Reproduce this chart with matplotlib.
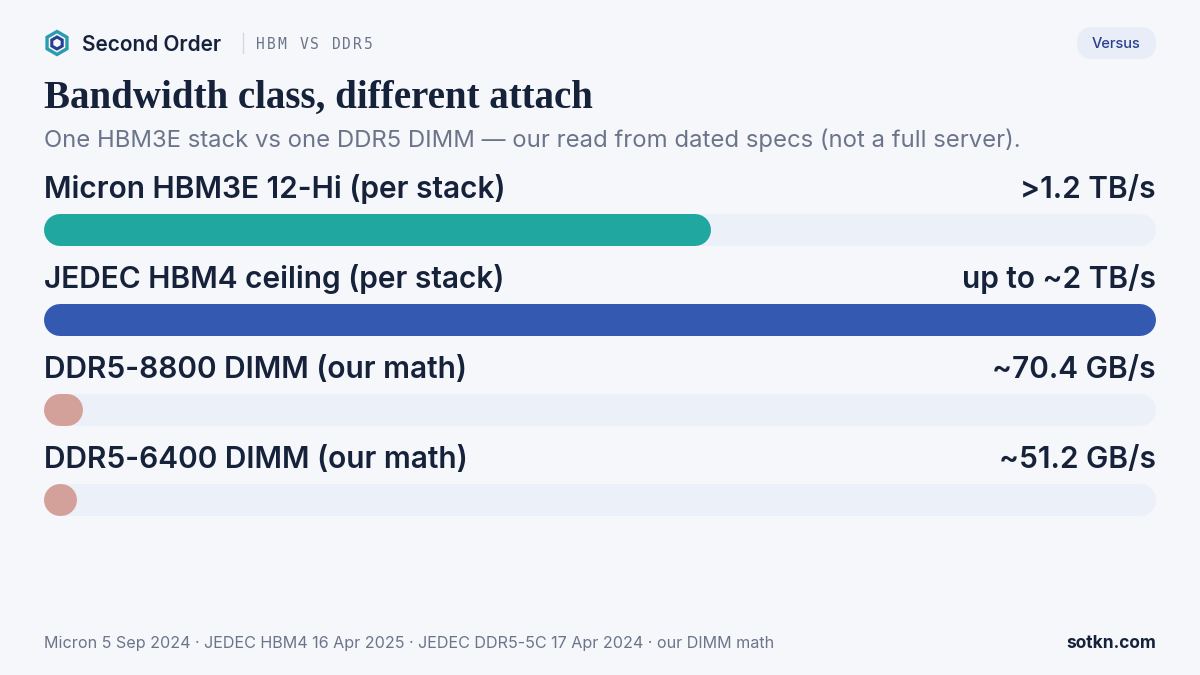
import matplotlib
matplotlib.use("Agg")
import matplotlib.pyplot as plt
from matplotlib.patches import FancyBboxPatch, RegularPolygon

# Chart data
labels = ["Micron HBM3E 12-Hi (per stack)", "JEDEC HBM4 ceiling (per stack)",
          "DDR5-8800 DIMM (our math)", "DDR5-6400 DIMM (our math)"]
values_gbs = [1200, 2000, 70.4, 51.2]
value_text = [">1.2 TB/s", "up to ~2 TB/s", "~70.4 GB/s", "~51.2 GB/s"]
bar_colors = ["#20A8A0", "#3459B1", "#D4A19A", "#D4A19A"]
scale_max = 2000

title = "Bandwidth class, different attach"
subtitle = "One HBM3E stack vs one DDR5 DIMM \u2014 our read from dated specs (not a full server)."
footer = "Micron 5 Sep 2024 \u00b7 JEDEC HBM4 16 Apr 2025 \u00b7 JEDEC DDR5-5C 17 Apr 2024 \u00b7 our DIMM math"

BG = "#F5F7FB"
TRACK = "#ECF0F8"
DARK = "#16213A"
GRAY = "#6B7489"

W, H = 1200, 675
fig = plt.figure(figsize=(12, 6.75), dpi=100, facecolor=BG)

# full-figure axes in pixel units for text
ax = fig.add_axes([0, 0, 1, 1])
ax.set_xlim(0, W)
ax.set_ylim(H, 0)
ax.axis("off")

# logo
ax.add_patch(RegularPolygon((57, 43), 6, radius=11.5, orientation=0, fill=False,
                            edgecolor="#2A9BB0", linewidth=2.4))
ax.add_patch(RegularPolygon((57, 43), 6, radius=6, orientation=0, fill=False,
                            edgecolor="#24408F", linewidth=2.2))

ax.text(82, 51, "Second Order", fontsize=15, fontweight="semibold",
        family="Inter", color=DARK)
ax.plot([243, 243], [33, 53], color="#D3D8E2", linewidth=1)
for i, ch in enumerate("HBM VS DDR5"):
    ax.text(256 + i * 10.8, 49, ch, fontsize=10.5, family="DejaVu Sans Mono",
            color=GRAY)

# Versus pill
ax.add_patch(FancyBboxPatch((1077, 27), 79, 32, boxstyle="round,pad=0,rounding_size=16",
                            facecolor="#E8EDF7", edgecolor="none"))
ax.text(1116.5, 44, "Versus", fontsize=10.5, family="Inter", fontweight="medium",
        color="#2A3F8F", ha="center", va="center")

ax.text(44, 108, title, fontsize=28, family="Liberation Serif", fontweight="bold",
        color=DARK)
ax.text(44, 147, subtitle, fontsize=17.2, family="Inter", color=GRAY)

# row labels
for i, (lab, vt) in enumerate(zip(labels, value_text)):
    base = 198 + 90 * i
    ax.text(44, base, lab, fontsize=21.5, family="Inter", fontweight="semibold", color=DARK)
    ax.text(1156, base, vt, fontsize=21.5, family="Inter", fontweight="semibold",
            color=DARK, ha="right")

ax.text(44, 648, footer, fontsize=11.6, family="Inter", color=GRAY)
ax.text(1156, 648, "sotkn.com", fontsize=12.5, family="Inter", fontweight="bold",
        color=DARK, ha="right")

# bar axes: x in GB/s, y in pixels
top, bottom = 170, 530
bax = fig.add_axes([44 / W, 1 - bottom / H, 1112 / W, (bottom - top) / H])
bax.set_xlim(0, scale_max)
bax.set_ylim(bottom, top)
bax.axis("off")
bax.patch.set_alpha(0)

units_per_px = scale_max / 1112
bar_px = 32
bar_lw = bar_px * 72 / 100  # points
rad = bar_px / 2 * units_per_px

for i, (v, c) in enumerate(zip(values_gbs, bar_colors)):
    cy = 230 + 90 * i
    # track and bar drawn as thick lines with round caps
    bax.plot([rad, scale_max - rad], [cy, cy], color=TRACK, linewidth=bar_lw,
             solid_capstyle="round")
    end = max(v - rad, rad + 1)
    bax.plot([rad, end], [cy, cy], color=c, linewidth=bar_lw, solid_capstyle="round")

fig.savefig("out.png", dpi=100, facecolor=BG)
